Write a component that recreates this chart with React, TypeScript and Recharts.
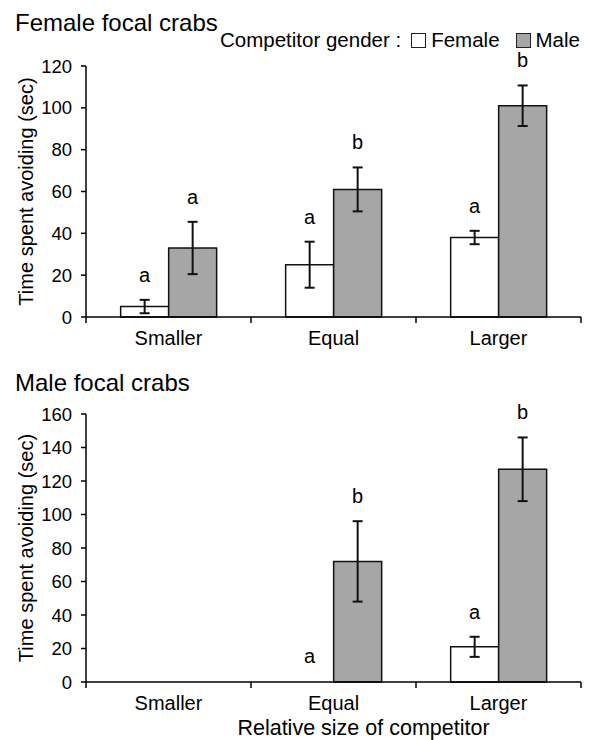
import React from 'react';
import { ComposedChart, Bar, XAxis, YAxis, ErrorBar, LabelList } from 'recharts';

const categories = ['Smaller', 'Equal', 'Larger'];

// Female focal crabs
const ffFemaleMean = [5, 25, 38];
const ffFemaleErr = [3.2, 11, 3.2];
const ffMaleMean = [33, 61, 101];
const ffMaleErr = [12.5, 10.5, 9.7];
const ffFemaleLetters = ['a', 'a', 'a'];
const ffMaleLetters = ['a', 'b', 'b'];

// Male focal crabs
const mfFemaleMean = [0, 0, 21];
const mfFemaleErr = [0, 0, 6];
const mfMaleMean = [0, 72, 127];
const mfMaleErr = [0, 24, 19];
const mfFemaleLetters = ['', 'a', 'a'];
const mfMaleLetters = ['', 'b', 'b'];

const topTicks = [0, 20, 40, 60, 80, 100, 120];
const bottomTicks = [0, 20, 40, 60, 80, 100, 120, 140, 160];

const FONT = '"Liberation Sans", Arial, sans-serif';
const GREY = '#a6a6a6';

function buildRows(
  fMean: number[], fErr: number[], fLet: string[],
  mMean: number[], mErr: number[], mLet: string[]
) {
  return categories.map((name, i) => ({
    name,
    fMean: fMean[i],
    fErr: fErr[i],
    fCap: fErr[i],
    fLetter: fLet[i],
    mMean: mMean[i],
    mErr: mErr[i],
    mCap: mErr[i],
    mLetter: mLet[i],
  }));
}

const topRows = buildRows(ffFemaleMean, ffFemaleErr, ffFemaleLetters, ffMaleMean, ffMaleErr, ffMaleLetters);
const bottomRows = buildRows(mfFemaleMean, mfFemaleErr, mfFemaleLetters, mfMaleMean, mfMaleErr, mfMaleLetters);

const CategoryTick = (props: any) => {
  const { x, y, payload } = props;
  const half = payload.offset ?? 0;
  const isLast = payload.value === categories[categories.length - 1];
  return (
    <g>
      <line x1={x - half} y1={y} x2={x - half} y2={y + 6} stroke="#000" strokeWidth={1.5} />
      {isLast && <line x1={x + half} y1={y} x2={x + half} y2={y + 6} stroke="#000" strokeWidth={1.5} />}
      <text x={x} y={y + 28} textAnchor="middle" fontSize={20} fill="#000" fontFamily={FONT}>
        {payload.value}
      </text>
    </g>
  );
};

function Panel({ rows, ticks, height, top, xHeight, showXLabel }: any) {
  const max = ticks[ticks.length - 1];
  return (
    <ComposedChart
      width={589}
      height={height}
      data={rows}
      margin={{ top, right: 8, left: 0, bottom: 0 }}
      barCategoryGap="21%"
      barGap={0}
      style={{ fontFamily: FONT }}
    >
      <XAxis
        dataKey="name"
        height={xHeight}
        axisLine={{ stroke: '#000', strokeWidth: 1.5 }}
        tickLine={false}
        tickSize={0}
        tickMargin={0}
        tick={<CategoryTick />}
        interval={0}
        label={
          showXLabel
            ? { value: 'Relative size of competitor', position: 'insideBottom', offset: 5, dx: 30, fontSize: 21.5, fill: '#000' }
            : undefined
        }
      />
      <YAxis
        width={86}
        domain={[0, max]}
        ticks={ticks}
        interval={0}
        axisLine={{ stroke: '#000', strokeWidth: 1.5 }}
        tickLine={{ stroke: '#000', strokeWidth: 1.5 }}
        tickSize={5}
        tickMargin={9}
        tick={{ fontSize: 18.5, fill: '#000' }}
        label={{
          value: 'Time spent avoiding (sec)',
          angle: -90,
          position: 'insideLeft',
          offset: 26,
          fontSize: 20,
          fill: '#000',
          style: { textAnchor: 'middle' },
        }}
      />
      <Bar dataKey="fMean" stackId="f" fill="#fff" stroke="#111" strokeWidth={1.5} isAnimationActive={false}>
        <ErrorBar dataKey="fErr" width={5} stroke="#111" strokeWidth={2} direction="y" />
      </Bar>
      <Bar dataKey="fCap" stackId="f" fill="none" stroke="none" minPointSize={1} isAnimationActive={false}>
        <LabelList dataKey="fLetter" position="top" offset={18} fontSize={20} fill="#000" />
      </Bar>
      <Bar dataKey="mMean" stackId="m" fill={GREY} stroke="#111" strokeWidth={1.5} isAnimationActive={false}>
        <ErrorBar dataKey="mErr" width={5} stroke="#111" strokeWidth={2} direction="y" />
      </Bar>
      <Bar dataKey="mCap" stackId="m" fill="none" stroke="none" minPointSize={1} isAnimationActive={false}>
        <LabelList dataKey="mLetter" position="top" offset={18} fontSize={20} fill="#000" />
      </Bar>
    </ComposedChart>
  );
}

const Swatch = ({ color }: { color: string }) => (
  <span
    style={{
      display: 'inline-block',
      width: 15,
      height: 15,
      background: color,
      border: '1.5px solid #222',
      boxSizing: 'border-box',
      marginRight: 5,
    }}
  />
);

export default function App() {
  return (
    <div style={{ position: 'absolute', left: 0, top: 0, width: 589, height: 740, background: '#fff', fontFamily: FONT, overflow: 'hidden' }}>
      <div style={{ position: 'absolute', left: 15, top: 11, fontSize: 24, lineHeight: 1 }}>Female focal crabs</div>
      <div style={{ position: 'absolute', left: 220, top: 30, fontSize: 20.5, lineHeight: 1, display: 'flex', alignItems: 'center', whiteSpace: 'nowrap' }}>
        <span style={{ marginRight: 10 }}>Competitor gender :</span>
        <Swatch color="#fff" />
        <span style={{ marginRight: 16 }}>Female</span>
        <Swatch color={GREY} />
        <span>Male</span>
      </div>
      <div style={{ position: 'absolute', left: 0, top: 0 }}>
        <Panel rows={topRows} ticks={topTicks} height={360} top={66} xHeight={43} showXLabel={false} />
      </div>
      <div style={{ position: 'absolute', left: 15, top: 371, fontSize: 24, lineHeight: 1 }}>Male focal crabs</div>
      <div style={{ position: 'absolute', left: 0, top: 360 }}>
        <Panel rows={bottomRows} ticks={bottomTicks} height={380} top={54} xHeight={58} showXLabel={true} />
      </div>
    </div>
  );
}
